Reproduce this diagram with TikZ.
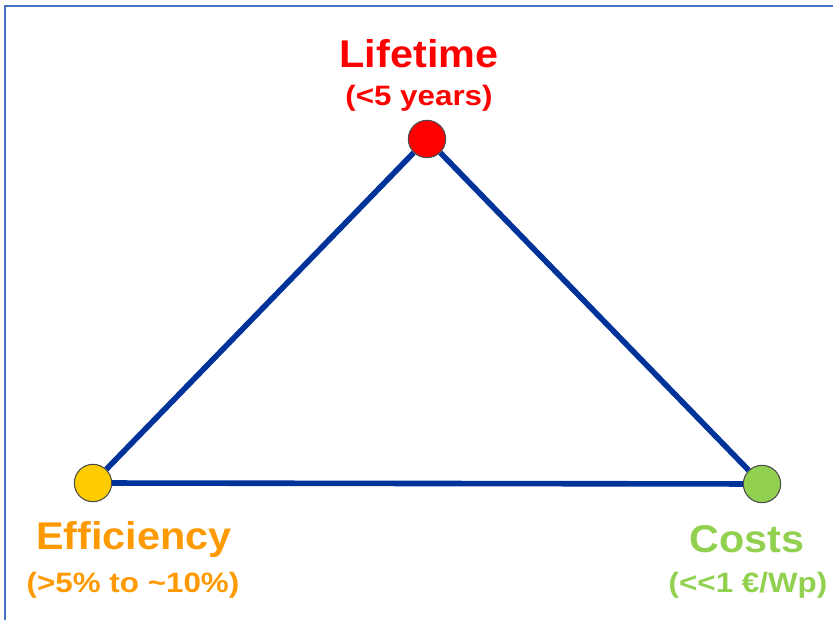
\documentclass[tikz,border=0pt]{standalone}
\usepackage{fontspec}
\setmainfont{Liberation Sans}
\usepackage{xcolor}
\usetikzlibrary{positioning}

\definecolor{edgeblue}{RGB}{0,51,153}
\definecolor{frameblue}{RGB}{68,114,196}
\definecolor{lifered}{RGB}{255,0,0}
\definecolor{efforange}{RGB}{255,153,0}
\definecolor{costgreen}{RGB}{146,208,80}
\definecolor{dotyellow}{RGB}{255,204,0}

% slightly wide text, as in the reference
\newcommand{\widetitle}[1]{\scalebox{1.07}[1]{#1}}
\newcommand{\widerange}[1]{\scalebox{1.12}[1]{#1}}

\begin{document}
\begin{tikzpicture}[x=0.75pt,y=-0.75pt,
    cornerdot/.style={circle, draw=black!70, line width=0.8pt, minimum size=28pt, inner sep=0pt},
    goaltitle/.style={font=\bfseries\fontsize{29}{30}\selectfont, anchor=base, inner sep=0pt},
    goalrange/.style={font=\bfseries\fontsize{21}{23}\selectfont, anchor=base, inner sep=0pt},
    triangleside/.style={line width=4.2pt, edgeblue}]
        \useasboundingbox (0,0) rectangle (833,620);

        % Draw frame
        \draw[frameblue, line width=2pt] (5,620) -- (5,6) -- (833,6);

        % Draw corners
        \node[cornerdot, fill=lifered] (life) at (427,139) {};
        \node[cornerdot, fill=dotyellow] (eff) at (93,483) {};
        \node[cornerdot, fill=costgreen] (cost) at (762,484) {};

        % Draw triangle
        \draw[triangleside] (life) -- (eff);
        \draw[triangleside] (eff) -- (cost);
        \draw[triangleside] (cost) -- (life);

        % Labels
        \node[goaltitle, lifered] (lifetitle) at (419,68) {\widetitle{Lifetime}};
        \node[goalrange, lifered] (liferange) at (419,106) {\widerange{(<5 years)}};
        \node[goaltitle, efforange] (efftitle) at (134,550) {\widetitle{Efficiency}};
        \node[goalrange, efforange] (effrange) at (133,593) {\widerange{(>5\% to \textasciitilde10\%)}};
        \node[goaltitle, costgreen] (costtitle) at (747,552) {\widetitle{Costs}};
        \node[goalrange, costgreen] (costrange) at (748,593) {\widerange{(<\kern0pt<1 €/Wp)}};
    \end{tikzpicture}
\end{document}
